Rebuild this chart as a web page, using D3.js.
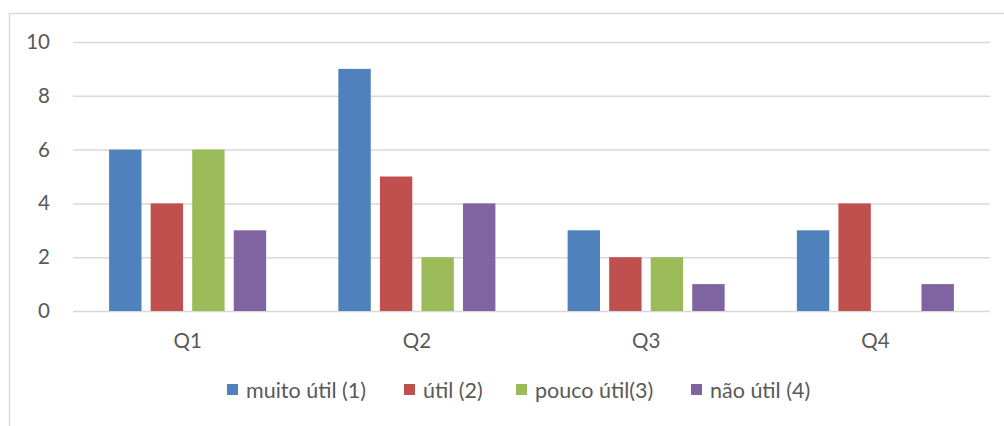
<!DOCTYPE html>
<html><head><meta charset="utf-8">
<script src="https://cdn.jsdelivr.net/npm/d3@7"></script>
<style>html,body{margin:0;padding:0;background:#fff;}svg{display:block;}</style>
</head><body>
<svg id="c" width="1004" height="426"></svg>
<script>
const categories = ["Q1","Q2","Q3","Q4"];
const seriesNames = ["muito útil (1)","útil (2)","pouco útil(3)","não útil (4)"];
const muitoUtil = [6,9,3,3];
const util = [4,5,2,4];
const poucoUtil = [6,2,2,0];
const naoUtil = [3,4,1,1];
const yTicks = [0,2,4,6,8,10];
const colors = ["#4f81bd","#c0504d","#9bbb59","#8064a2"];
const seriesValues = [muitoUtil, util, poucoUtil, naoUtil];

(function(){
const svg = d3.select("#c");
const font = "Lato, 'Open Sans', sans-serif";
svg.append("rect").attr("x",9.5).attr("y",13.5).attr("width",1100).attr("height",500)
  .attr("fill","none").attr("stroke","#d9d9d9").attr("stroke-width",1.5);

const pLeft=73, pRight=990, pTop=42, pBottom=311;
const x0 = d3.scaleBand().domain(categories).range([pLeft,pRight]).paddingInner(0.315).paddingOuter(0.1575);
const x1 = d3.scaleBand().domain(seriesNames).range([0,x0.bandwidth()]).paddingInner(0.22).paddingOuter(0);
const y = d3.scaleLinear().domain([0,10]).range([pBottom,pTop]);

const yAxis = d3.axisLeft(y).tickValues(yTicks).tickSize(-(pRight-pLeft)).tickPadding(23).tickFormat(d3.format("d"));
const gy = svg.append("g").attr("transform",`translate(${pLeft},0)`).call(yAxis);
gy.select(".domain").remove();
gy.selectAll(".tick line").attr("stroke","#d9d9d9").attr("stroke-width",1.5);
gy.selectAll(".tick text").attr("font-family",font).attr("font-size",20.5).attr("fill","#595959");

const groups = svg.append("g").selectAll("g").data(categories).join("g")
  .attr("transform",d=>`translate(${x0(d)},0)`);
groups.selectAll("rect").data((c,i)=>seriesNames.map((s,j)=>({s,j,v:seriesValues[j][i]})))
  .join("rect")
  .attr("x",d=>x1(d.s)).attr("width",x1.bandwidth())
  .attr("y",d=>y(d.v)).attr("height",d=>y(0)-y(d.v))
  .attr("fill",d=>colors[d.j]);

const xAxis = d3.axisBottom(x0).tickSize(0).tickPadding(22);
const gx = svg.append("g").attr("transform",`translate(0,${pBottom})`).call(xAxis);
gx.select(".domain").remove();
gx.selectAll(".tick text").attr("font-family",font).attr("font-size",20.5).attr("fill","#595959");

const legendX = [227,404,516,691];
const lg = svg.append("g").selectAll("g").data(seriesNames).join("g")
  .attr("transform",(d,i)=>`translate(${legendX[i]},390)`);
lg.append("rect").attr("x",0).attr("y",-6).attr("width",11).attr("height",11).attr("fill",(d,i)=>colors[i]);
lg.append("text").attr("x",19).attr("y",0).attr("dy","0.35em").text(d=>d)
  .attr("font-family",font).attr("font-size",21.5).attr("fill","#595959");
})();
</script>
</body></html>
